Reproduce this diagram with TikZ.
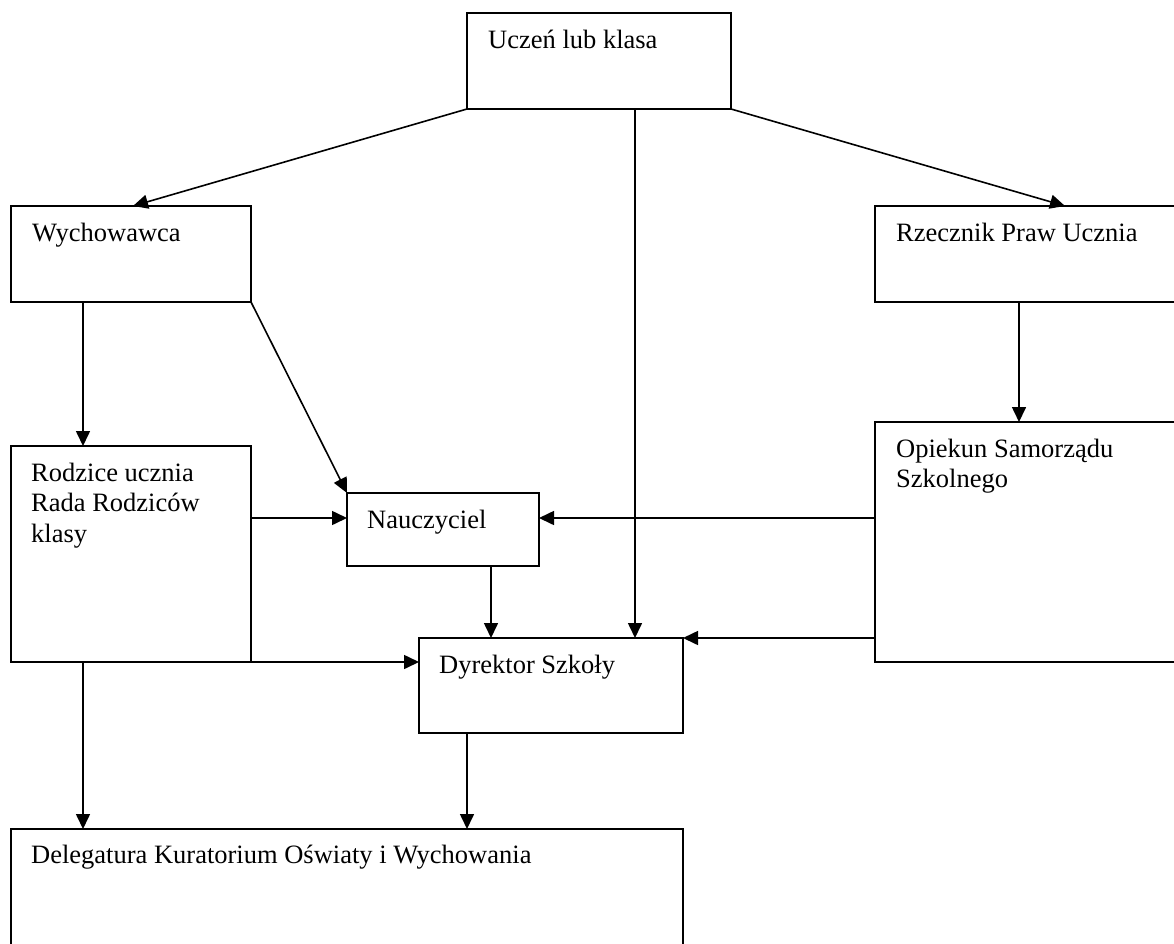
\documentclass[tikz,border=0pt]{standalone}
\usepackage{fontspec}
\setmainfont{Liberation Serif}
\usetikzlibrary{arrows.meta}
\tikzset{
  box/.style={draw, line width=1.6pt, inner sep=0pt, outer sep=0pt, anchor=north west, rectangle},
  lbl/.style={anchor=north west, inner sep=0pt, align=left, font=\fontsize{26.5}{30.5}\selectfont},
  conn/.style={line width=1.6pt, -{Triangle[length=15pt,width=14pt]}}
}
\newcommand{\fl}{\rule{0pt}{21pt}}
\begin{document}
\begin{tikzpicture}[x=1pt,y=1pt]
\useasboundingbox (0,0) rectangle (1174,-944);
\clip (0,0) rectangle (1174,-944);
% boxes
\node[box, minimum width=264pt, minimum height=96pt] (u) at (467,-13) {};
\node[box, minimum width=240pt, minimum height=96pt] (w) at (11,-206) {};
\node[box, minimum width=320pt, minimum height=96pt] (r) at (875,-206) {};
\node[box, minimum width=240pt, minimum height=216pt] (p) at (11,-446) {};
\node[box, minimum width=192pt, minimum height=73pt] (n) at (347,-493) {};
\node[box, minimum width=320pt, minimum height=240pt] (o) at (875,-422) {};
\node[box, minimum width=264pt, minimum height=95pt] (d) at (419,-638) {};
\node[box, minimum width=672pt, minimum height=140pt] (k) at (11,-829) {};
% labels
\node[lbl] (ut) at (488,-27) {\fl Uczeń lub klasa};
\node[lbl] (wt) at (32,-220) {\fl Wychowawca};
\node[lbl] (rt) at (896,-220) {\fl Rzecznik Praw Ucznia};
\node[lbl] (pt) at (31,-460) {\fl Rodzice ucznia\\Rada Rodziców\\klasy};
\node[lbl] (nt) at (367,-507) {\fl Nauczyciel};
\node[lbl] (ot) at (896,-436) {\fl Opiekun Samorządu\\Szkolnego};
\node[lbl] (dt) at (439,-652) {\fl Dyrektor Szkoły};
\node[lbl] (kt) at (31,-842) {\fl Delegatura Kuratorium Oświaty i Wychowania};
% connectors
\draw[conn] (u.south west) -- ([xshift=122pt]w.north west);
\draw[conn] (u.south east) -- ([xshift=190pt]r.north west);
\draw[conn] ([xshift=168pt]u.south west) -- ([xshift=216pt]d.north west);
\draw[conn] ([xshift=72pt]w.south west) -- ([xshift=72pt]p.north west);
\draw[conn] (w.south east) -- (n.north west);
\draw[conn] ([xshift=144pt]r.south west) -- ([xshift=144pt]o.north west);
\draw[conn] ([yshift=-72pt]p.north east) -- ([yshift=-25pt]n.north west);
\draw[conn] ([yshift=-96pt]o.north west) -- ([yshift=-25pt]n.north east);
\draw[conn] ([xshift=144pt]n.south west) -- ([xshift=72pt]d.north west);
\draw[conn] ([yshift=-216pt]o.north west) -- (d.north east);
\draw[conn] (p.south east) -- ([yshift=-24pt]d.north west);
\draw[conn] ([xshift=72pt]p.south west) -- ([xshift=72pt]k.north west);
\draw[conn] ([xshift=48pt]d.south west) -- ([xshift=456pt]k.north west);
\end{tikzpicture}
\end{document}
